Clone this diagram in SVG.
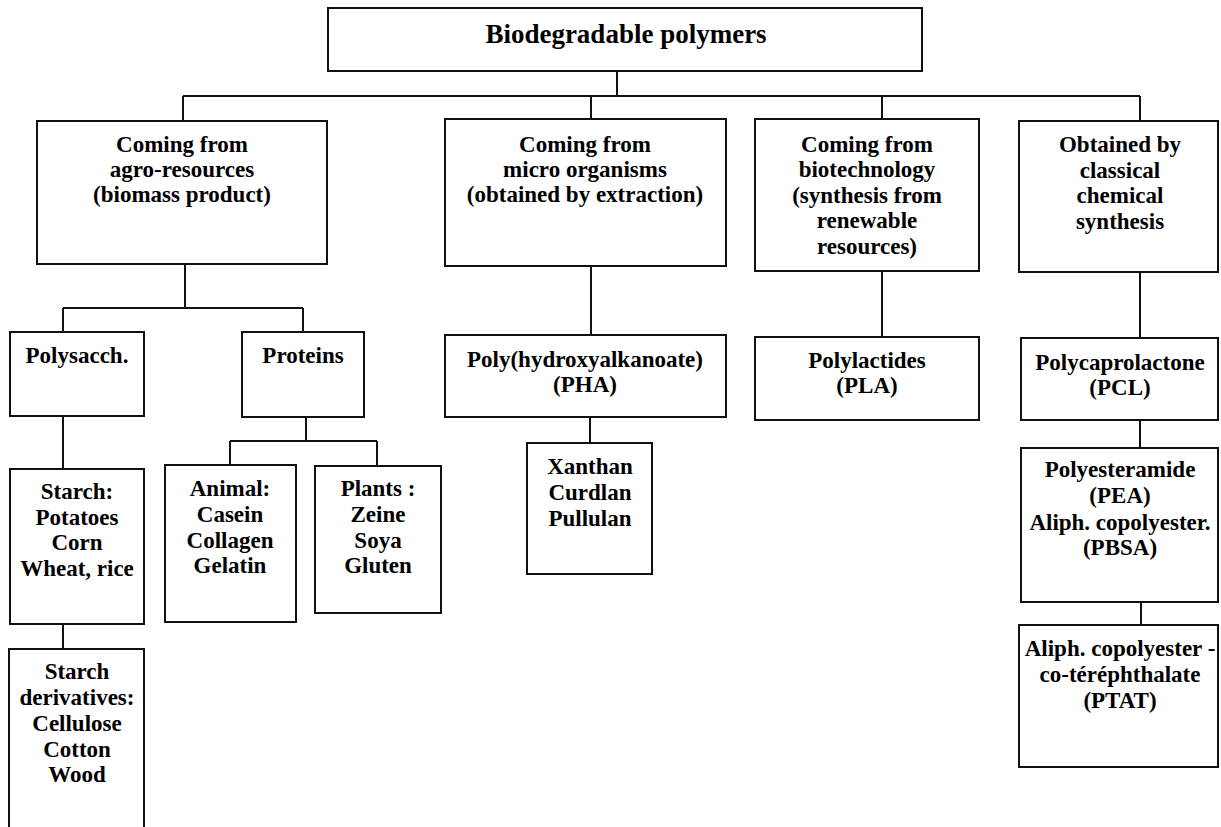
<svg xmlns="http://www.w3.org/2000/svg" width="1221" height="827" viewBox="0 0 1221 827">
<style>
.box{fill:#fff;stroke:#111;stroke-width:2}
.c{fill:none;stroke:#111;stroke-width:2}
text{font-family:"Liberation Serif","Times New Roman",serif;font-weight:bold;font-size:23px;fill:#000;text-anchor:middle}
.t{font-size:27px}
</style>
<rect width="1221" height="827" fill="#fff"/>
<g id="connectors">
<path class="c" d="M617 71V96M183 96H1140M183 96V121M591 96V119M882 96V119M1140 96V121"/>
<path class="c" d="M185 264V308M63 308H303M63 308V332M303 308V332"/>
<path class="c" d="M63 416V469M63 624V649"/>
<path class="c" d="M306 417V441M230 441H377M230 441V465M377 441V466"/>
<path class="c" d="M591 266V335M590 417V443"/>
<path class="c" d="M882 271V337"/>
<path class="c" d="M1140 272V338M1140 420V448M1141 602V625"/>
</g>
<g id="root"><rect class="box" x="328" y="8" width="594" height="63"/><text class="t" x="626" y="43">Biodegradable polymers</text></g>
<g id="agro"><rect class="box" x="37" y="121" width="290" height="143"/><text x="182" y="152">Coming from</text><text x="182" y="177">agro-resources</text><text x="182" y="202">(biomass product)</text></g>
<g id="micro"><rect class="box" x="445" y="119" width="281" height="147"/><text x="585" y="152">Coming from</text><text x="585" y="177">micro organisms</text><text x="585" y="202">(obtained by extraction)</text></g>
<g id="biotech"><rect class="box" x="755" y="119" width="224" height="152"/><text x="867" y="152">Coming from</text><text x="867" y="177">biotechnology</text><text x="867" y="203">(synthesis from</text><text x="867" y="228">renewable</text><text x="867" y="254">resources)</text></g>
<g id="chemical"><rect class="box" x="1019" y="121" width="199" height="151"/><text x="1120" y="152">Obtained by</text><text x="1120" y="178">classical</text><text x="1120" y="203">chemical</text><text x="1120" y="229">synthesis</text></g>
<g id="polysacch"><rect class="box" x="10" y="332" width="134" height="84"/><text x="77" y="363">Polysacch.</text></g>
<g id="proteins"><rect class="box" x="242" y="332" width="122" height="85"/><text x="303" y="363">Proteins</text></g>
<g id="pha"><rect class="box" x="445" y="335" width="281" height="82"/><text x="585" y="367">Poly(hydroxyalkanoate)</text><text x="585" y="392">(PHA)</text></g>
<g id="pla"><rect class="box" x="755" y="337" width="224" height="83"/><text x="867" y="368">Polylactides</text><text x="867" y="393">(PLA)</text></g>
<g id="pcl"><rect class="box" x="1021" y="338" width="197" height="82"/><text x="1120" y="370">Polycaprolactone</text><text x="1120" y="395">(PCL)</text></g>
<g id="starch"><rect class="box" x="10" y="469" width="134" height="155"/><text x="77" y="499">Starch:</text><text x="77" y="525">Potatoes</text><text x="77" y="550">Corn</text><text x="77" y="576">Wheat, rice</text></g>
<g id="derivatives"><rect class="box" x="9" y="649" width="135" height="200"/><text x="77" y="679">Starch</text><text x="77" y="705">derivatives:</text><text x="77" y="731">Cellulose</text><text x="77" y="757">Cotton</text><text x="77" y="782">Wood</text></g>
<g id="animal"><rect class="box" x="165" y="465" width="131" height="157"/><text x="230" y="496">Animal:</text><text x="230" y="522">Casein</text><text x="230" y="548">Collagen</text><text x="230" y="573">Gelatin</text></g>
<g id="plants"><rect class="box" x="315" y="466" width="126" height="147"/><text x="378" y="496">Plants :</text><text x="378" y="522">Zeine</text><text x="378" y="548">Soya</text><text x="378" y="573">Gluten</text></g>
<g id="xanthan"><rect class="box" x="527" y="443" width="125" height="131"/><text x="590" y="474">Xanthan</text><text x="590" y="500">Curdlan</text><text x="590" y="526">Pullulan</text></g>
<g id="pea"><rect class="box" x="1021" y="448" width="197" height="154"/><text x="1120" y="477">Polyesteramide</text><text x="1120" y="503">(PEA)</text><text x="1120" y="530">Aliph. copolyester.</text><text x="1120" y="555">(PBSA)</text></g>
<g id="ptat"><rect class="box" x="1019" y="625" width="199" height="142"/><text x="1120" y="656">Aliph. copolyester -</text><text x="1120" y="682">co-téréphthalate</text><text x="1120" y="708">(PTAT)</text></g>
</svg>
